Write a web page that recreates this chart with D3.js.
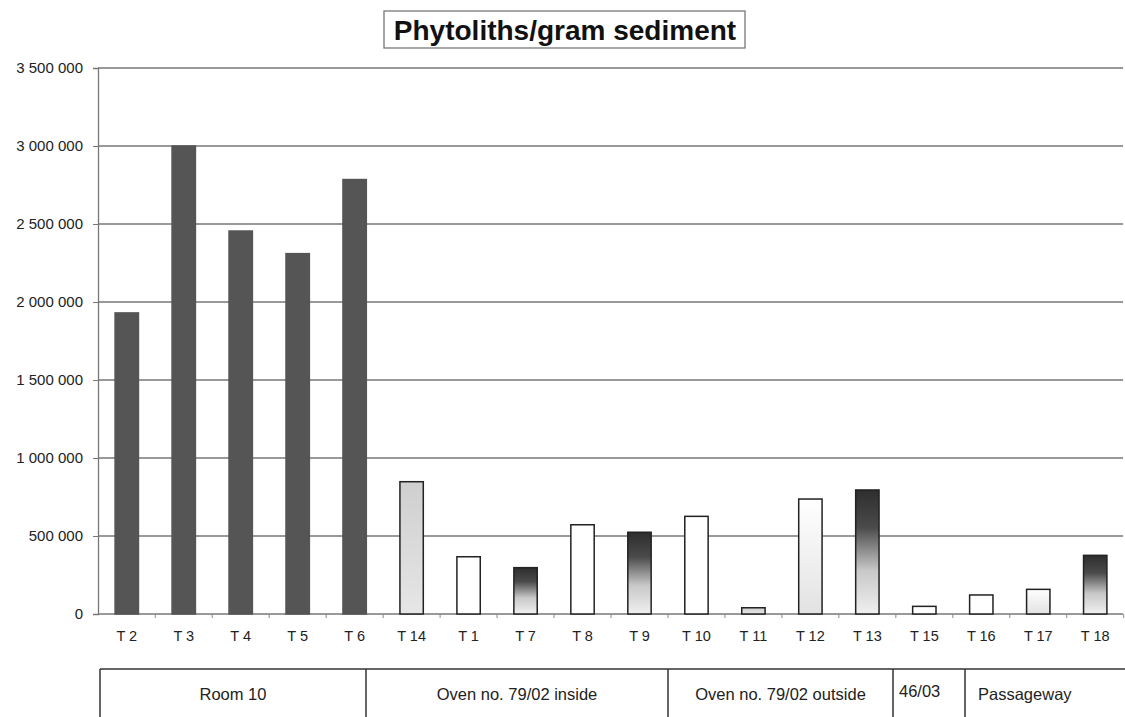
<!DOCTYPE html>
<html>
<head>
<meta charset="utf-8">
<script src="https://cdn.jsdelivr.net/npm/d3@7"></script>
<style>
body { margin: 0; background: #fff; }
svg { display: block; font-family: Arial, "Liberation Sans", sans-serif; }
</style>
</head>
<body>
<svg id="chart" width="1125" height="717"></svg>
<script>
var categories = ["T 2", "T 3", "T 4", "T 5", "T 6", "T 14", "T 1", "T 7", "T 8", "T 9",
	"T 10", "T 11", "T 12", "T 13", "T 15", "T 16", "T 17", "T 18"];
var values = [1930000, 3000000, 2455000, 2310000, 2785000, 848000, 367000, 297000, 572000, 524000,
	626000, 40000, 737000, 795000, 49000, 122000, 158000, 376000];
// fill style per bar: solid, white, light, pale, dark (gradient)
var fills = ["solid", "solid", "solid", "solid", "solid", "light", "white", "dark", "white", "dark",
	"white", "light", "pale", "dark", "white", "white", "pale", "dark"];
var yTicks = [0, 500000, 1000000, 1500000, 2000000, 2500000, 3000000, 3500000];
var groups = ["Room 10", "Oven no. 79/02 inside", "Oven no. 79/02 outside", "46/03", "Passageway"];
var groupEdges = [100, 366, 668, 893, 965, 1125];
var groupAlign = ["middle", "middle", "middle", "start", "start"];

var sizes = { left: 98, right: 1124, top: 68, bottom: 614 };
var svg = d3.select("#chart");

var defs = svg.append("defs");
function grad(id, stops) {
	var g = defs.append("linearGradient").attr("id", id)
		.attr("x1", 0).attr("y1", 0).attr("x2", 0).attr("y2", 1);
	stops.forEach(function(s) {
		g.append("stop").attr("offset", s[0]).attr("stop-color", s[1]);
	});
}
grad("g-dark", [["0%", "#2e2e2e"], ["30%", "#4a4a4a"], ["65%", "#c8c8c8"], ["100%", "#f0f0f0"]]);
grad("g-light", [["0%", "#cfcfcf"], ["100%", "#e6e6e6"]]);
grad("g-pale", [["0%", "#ffffff"], ["100%", "#e2e2e2"]]);

var fillColor = {
	solid: "#555555",
	white: "#ffffff",
	light: "url(#g-light)",
	pale: "url(#g-pale)",
	dark: "url(#g-dark)"
};

var x = d3.scaleBand()
	.domain(categories)
	.range([sizes.left, sizes.right])
	.paddingInner(0.59)
	.paddingOuter(0.3);

var y = d3.scaleLinear()
	.domain([0, 3500000])
	.range([sizes.bottom, sizes.top]);

var fmt = function(d) { return d3.format(",")(d).replace(/,/g, " "); };

// y axis
var yAxis = d3.axisLeft(y).tickValues(yTicks).tickFormat(fmt).tickSize(5).tickPadding(10);
var yg = svg.append("g")
	.attr("transform", "translate(" + sizes.left + ",0)")
	.call(yAxis);
yg.select(".domain").attr("stroke", "#777").attr("stroke-width", 1.3);
yg.selectAll(".tick line").attr("stroke", "#777");
yg.selectAll(".tick text").attr("font-size", 15).attr("fill", "#222")
	.attr("font-family", "Arial, 'Liberation Sans', sans-serif");

// gridlines
svg.append("g").selectAll("line")
	.data(yTicks.filter(function(d) { return d > 0; }))
	.join("line")
	.attr("x1", sizes.left).attr("x2", 1123)
	.attr("y1", function(d) { return y(d); })
	.attr("y2", function(d) { return y(d); })
	.attr("stroke", "#777").attr("stroke-width", 1.3);

// x axis
var step = x.step();
svg.append("line")
	.attr("x1", sizes.left).attr("x2", 1123)
	.attr("y1", sizes.bottom).attr("y2", sizes.bottom)
	.attr("stroke", "#777").attr("stroke-width", 1.3);
svg.append("g").selectAll("line")
	.data(categories)
	.join("line")
	.attr("x1", function(d) { return x(d) + x.bandwidth() / 2 + step / 2; })
	.attr("x2", function(d) { return x(d) + x.bandwidth() / 2 + step / 2; })
	.attr("y1", sizes.bottom).attr("y2", sizes.bottom + 4)
	.attr("stroke", "#888");
svg.append("g").selectAll("text")
	.data(categories)
	.join("text")
	.attr("x", function(d) { return x(d) + x.bandwidth() / 2; })
	.attr("y", 641)
	.attr("text-anchor", "middle")
	.attr("font-size", 14.5)
	.attr("fill", "#222")
	.text(function(d) { return d; });

// bars
svg.append("g").selectAll("rect")
	.data(values)
	.join("rect")
	.attr("x", function(d, i) { return x(categories[i]); })
	.attr("width", x.bandwidth())
	.attr("y", function(d) { return y(d); })
	.attr("height", function(d) { return sizes.bottom - y(d); })
	.attr("fill", function(d, i) { return fillColor[fills[i]]; })
	.attr("stroke", function(d, i) { return fills[i] === "solid" ? "#555" : "#222"; })
	.attr("stroke-width", 1.5);

// title
var tg = svg.append("g");
tg.append("rect")
	.attr("x", 384).attr("y", 11).attr("width", 361).attr("height", 37)
	.attr("fill", "#fff").attr("stroke", "#777").attr("stroke-width", 1.3);
tg.append("text")
	.attr("x", 565).attr("y", 40)
	.attr("text-anchor", "middle")
	.attr("font-size", 28).attr("font-weight", "bold")
	.attr("fill", "#111")
	.text("Phytoliths/gram sediment");

// group table under the axis
var tb = svg.append("g");
tb.append("line")
	.attr("x1", groupEdges[0]).attr("x2", groupEdges[groupEdges.length - 1])
	.attr("y1", 669).attr("y2", 669)
	.attr("stroke", "#333").attr("stroke-width", 1.5);
tb.selectAll("line.div")
	.data(groupEdges.slice(0, -1))
	.join("line")
	.attr("class", "div")
	.attr("x1", function(d) { return d; }).attr("x2", function(d) { return d; })
	.attr("y1", 669).attr("y2", 717)
	.attr("stroke", "#333").attr("stroke-width", 1.5);
tb.selectAll("text")
	.data(groups)
	.join("text")
	.attr("x", function(d, i) {
		return groupAlign[i] === "middle" ? (groupEdges[i] + groupEdges[i + 1]) / 2 : groupEdges[i] + (i === 3 ? 6 : 13);
	})
	.attr("y", function(d, i) { return i === 3 ? 697 : 700; })
	.attr("text-anchor", function(d, i) { return groupAlign[i]; })
	.attr("font-size", 16.5)
	.attr("fill", "#222")
	.text(function(d) { return d; });
</script>
</body>
</html>
